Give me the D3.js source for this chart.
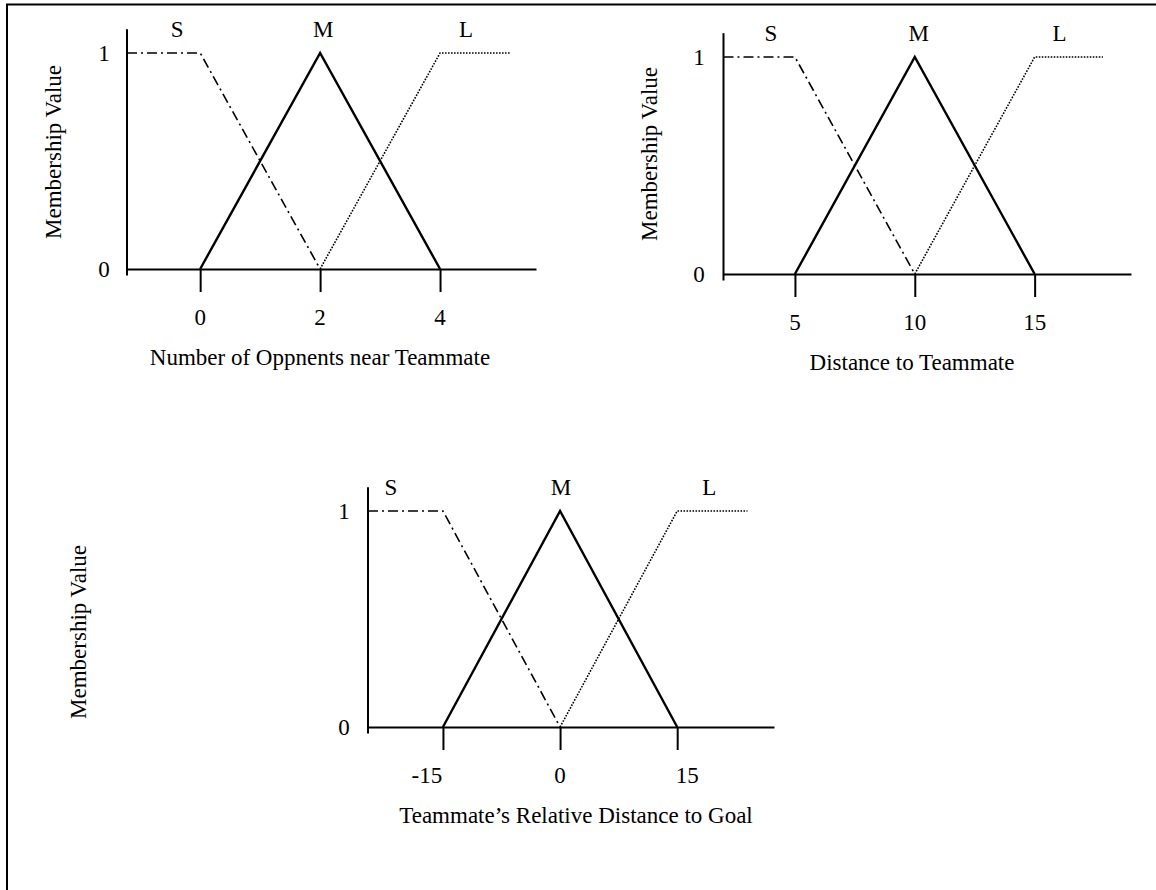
<!DOCTYPE html>
<html>
<head>
<meta charset="utf-8">
<script src="https://cdn.jsdelivr.net/npm/d3@7"></script>
<style>
  html, body { margin: 0; padding: 0; background: #fff; }
  svg { display: block; }
  text { font-family: "Liberation Serif", "Times New Roman", serif; font-size: 23px; fill: #000; }
</style>
</head>
<body>
<svg id="chart" width="1156" height="890"></svg>
<script>
// ---------- data ----------
const setNames = ["S", "M", "L"];
const yTicks = [0, 1];
const yTitle = "Membership Value";

// Panel 1: Number of Oppnents near Teammate
const p1Title = "Number of Oppnents near Teammate";
const p1Ticks = [0, 2, 4];
const p1Domain = [-1.22, 5.6];
const p1S = [[-1.22, 1], [0, 1], [2, 0]];
const p1M = [[0, 0], [2, 1], [4, 0]];
const p1L = [[2, 0], [4, 1], [5.17, 1]];

// Panel 2: Distance to Teammate
const p2Title = "Distance to Teammate";
const p2Ticks = [5, 10, 15];
const p2Domain = [2.02, 19.02];
const p2S = [[2.02, 1], [5, 1], [10, 0]];
const p2M = [[5, 0], [10, 1], [15, 0]];
const p2L = [[10, 0], [15, 1], [17.85, 1]];

// Panel 3: Teammate's Relative Distance to Goal
const p3Title = "Teammate\u2019s Relative Distance to Goal";
const p3Ticks = [-15, 0, 15];
const p3Domain = [-24.6, 27.4];
const p3S = [[-24.6, 1], [-15, 1], [0, 0]];
const p3M = [[-15, 0], [0, 1], [15, 0]];
const p3L = [[0, 0], [15, 1], [24, 1]];

// ---------- layout ----------
const panels = [
  { title: p1Title, ticks: p1Ticks, domain: p1Domain, S: p1S, M: p1M, L: p1L,
    x0: 127, x1: 536, yZero: 269, yOne: 53, yLabX: 104, yTitleX: 53, yTitleY: 152,
    labelDx: [-23, 3, 26], tickLabelDx: [0, 0, 0], titleX: 320 },
  { title: p2Title, ticks: p2Ticks, domain: p2Domain, S: p2S, M: p2M, L: p2L,
    x0: 723.5, x1: 1131, yZero: 274, yOne: 57, yLabX: 699, yTitleX: 649, yTitleY: 154,
    labelDx: [-24, 4, 25], tickLabelDx: [0, 0, 0], titleX: 912 },
  { title: p3Title, ticks: p3Ticks, domain: p3Domain, S: p3S, M: p3M, L: p3L,
    x0: 368, x1: 774, yZero: 727, yOne: 511, yLabX: 344, yTitleX: 78, yTitleY: 632,
    labelDx: [-52, 1, 32], tickLabelDx: [-16, 0, 10], titleX: 576 }
];

const svg = d3.select("#chart");

// outer frame (left and top border)
svg.append("line").attr("x1", 7).attr("x2", 7).attr("y1", 4).attr("y2", 890)
  .attr("stroke", "#000").attr("stroke-width", 2);
svg.append("line").attr("x1", 6).attr("x2", 1156).attr("y1", 4.5).attr("y2", 4.5)
  .attr("stroke", "#000").attr("stroke-width", 2.2);

const styles = {
  S: { dash: "10,4,2,4", width: 1.6 },
  M: { dash: null, width: 2.4 },
  L: { dash: "1.6,1.4", width: 1.6 }
};

panels.forEach(p => {
  const x = d3.scaleLinear().domain(p.domain).range([p.x0, p.x1]);
  const y = d3.scaleLinear().domain([0, 1]).range([p.yZero, p.yOne]);
  const g = svg.append("g");

  // x axis with long downward ticks
  const xAxis = d3.axisBottom(x).tickValues(p.ticks).tickSize(23).tickSizeOuter(0).tickFormat("");
  const ax = g.append("g").attr("transform", `translate(0,${y(0)})`).call(xAxis);
  ax.select(".domain").attr("stroke", "#000").attr("stroke-width", 2);
  ax.selectAll(".tick line").attr("stroke", "#000").attr("stroke-width", 2);

  // tick labels
  g.selectAll(".xlab").data(p.ticks).enter().append("text")
    .attr("x", (d, i) => x(d) + p.tickLabelDx[i])
    .attr("y", y(0) + 48)
    .attr("dy", "0.35em")
    .attr("text-anchor", "middle")
    .text(d => d);

  // y axis line (extends a little beyond 0 and 1)
  g.append("line")
    .attr("x1", x(p.domain[0])).attr("x2", x(p.domain[0]))
    .attr("y1", y(-0.03)).attr("y2", y(1.11))
    .attr("stroke", "#000").attr("stroke-width", 2);

  g.selectAll(".ylab").data(yTicks).enter().append("text")
    .attr("x", p.yLabX)
    .attr("y", d => y(d))
    .attr("dy", "0.35em")
    .attr("text-anchor", "middle")
    .text(d => d);

  // y title
  g.append("text")
    .attr("transform", `translate(${p.yTitleX},${p.yTitleY}) rotate(-90)`)
    .attr("text-anchor", "middle")
    .attr("dy", "0.35em")
    .text(yTitle);

  // x title
  g.append("text")
    .attr("x", p.titleX)
    .attr("y", y(0) + 88)
    .attr("dy", "0.35em")
    .attr("text-anchor", "middle")
    .text(p.title);

  // membership functions
  const line = d3.line().x(d => x(d[0])).y(d => y(d[1]));
  setNames.forEach(name => {
    g.append("path")
      .datum(p[name])
      .attr("d", line)
      .attr("fill", "none")
      .attr("stroke", "#000")
      .attr("stroke-width", styles[name].width)
      .attr("stroke-dasharray", styles[name].dash)
      .attr("stroke-linejoin", "miter");
  });

  // set labels above the chart
  const labelAt = [p.ticks[0], p.ticks[1], p.ticks[2]];
  g.selectAll(".setlab").data(setNames).enter().append("text")
    .attr("x", (d, i) => x(labelAt[i]) + p.labelDx[i])
    .attr("y", y(1.11))
    .attr("dy", "0.35em")
    .attr("text-anchor", "middle")
    .text(d => d);
});
</script>
</body>
</html>
